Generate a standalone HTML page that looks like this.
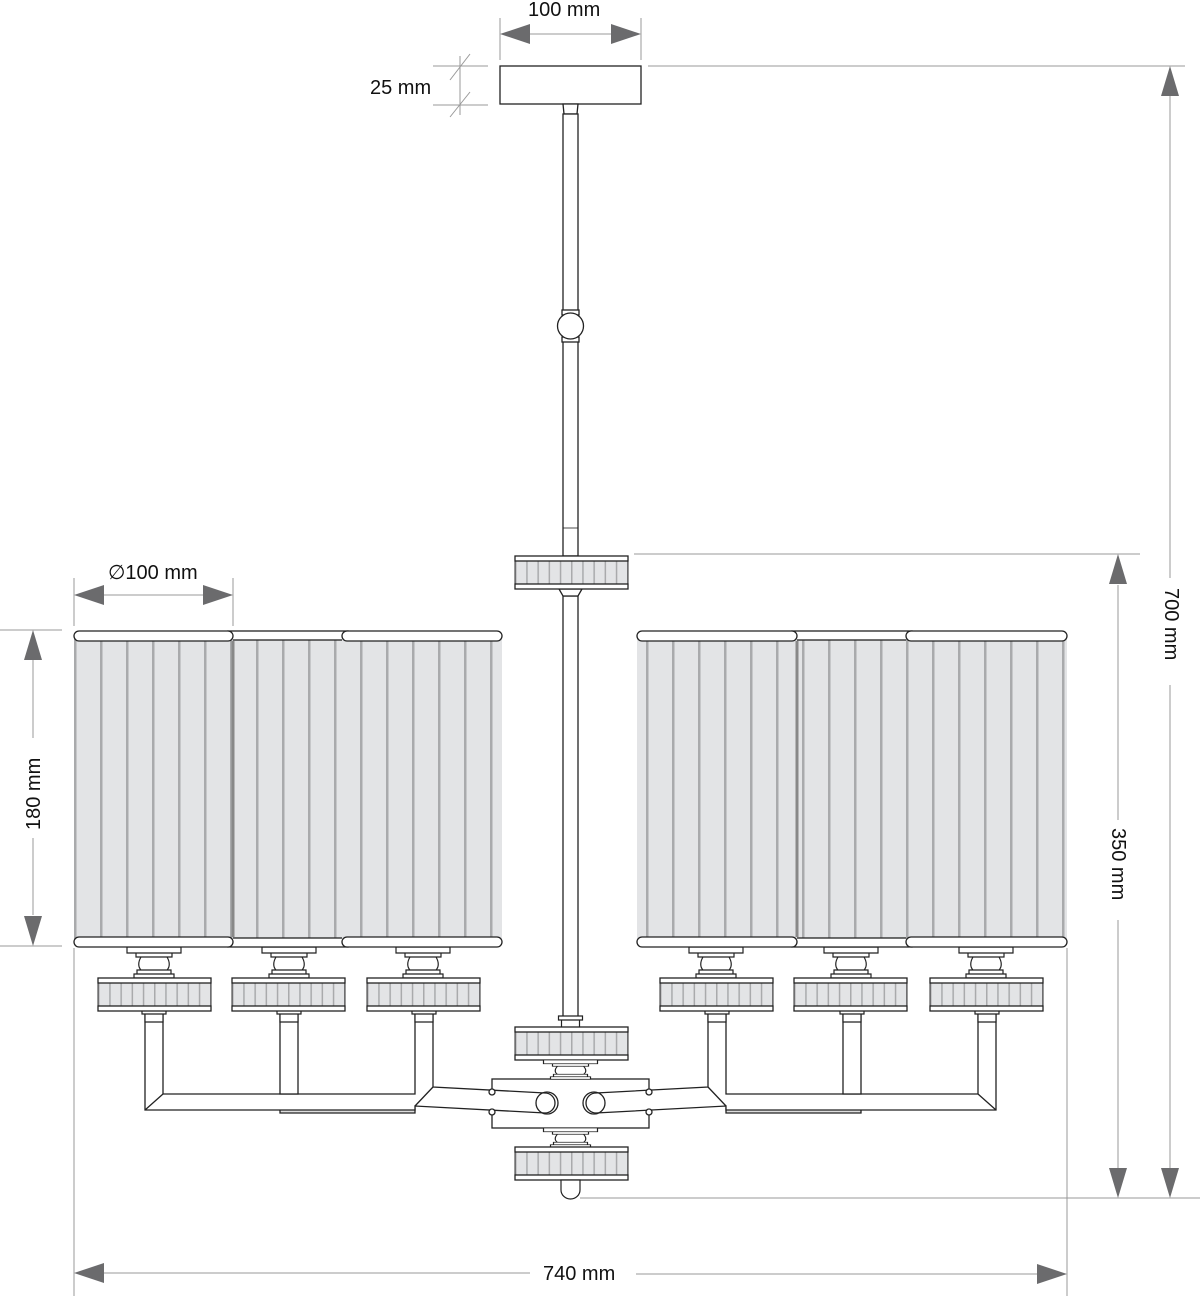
<!DOCTYPE html>
<html><head><meta charset="utf-8"><style>
html,body{margin:0;padding:0;background:#fff}
svg{display:block}
text{font-family:"Liberation Sans",Arial,sans-serif;font-size:20px;fill:#111}
</style></head><body>
<svg width="1200" height="1296" viewBox="0 0 1200 1296" xmlns="http://www.w3.org/2000/svg">
<defs>
<pattern id="sh" x="74" y="0" width="26" height="10" patternUnits="userSpaceOnUse">
<rect width="26" height="10" fill="#e3e4e6"/><rect x="0" width="2.5" height="10" fill="#a9aaac"/></pattern>
<pattern id="dr" x="0" y="0" width="11.2" height="10" patternUnits="userSpaceOnUse">
<rect width="11.2" height="10" fill="#e3e4e6"/><rect x="0" width="1.5" height="10" fill="#a9aaac"/></pattern>
<g id="drum">
<rect x="0" y="5" width="113" height="23" fill="url(#dr)" stroke="#333" stroke-width="1"/>
<rect x="0" y="0" width="113" height="5" fill="#fff" stroke="#222" stroke-width="1.3"/>
<rect x="0" y="28" width="113" height="5" fill="#fff" stroke="#222" stroke-width="1.3"/>
</g>
<path id="cup" d="M-27 0h54v6h-54z M-18 6h36v4h-36z M-13 10c-3 5 -3 10 0 13h26c3-3 3-8 0-13z M-17 23h34v4h-34z M-20 27h40v4h-40z" fill="#fff" stroke="#222" stroke-width="1.2"/>
<path id="post" d="M-12 0h24v4h-24z M-9 4h18v8h-18z" fill="#fff" stroke="#222" stroke-width="1.2"/>
<g id="arm" stroke="#222" stroke-width="1.3" fill="#fff">
<path d="M280 1108h135v5h-135z" fill="#ddd"/>
<path d="M145 1015H163V1094H415V1015H433V1087L545 1093A10 10 0 0 1 545 1113L415 1106V1110H145Z"/>
<path d="M145 1110L163 1094M415 1106L433 1087" fill="none"/>
<rect x="280" y="1015" width="18" height="79"/>
<circle cx="547" cy="1103" r="11" fill="none"/>
<circle cx="492" cy="1092" r="3"/><circle cx="492" cy="1112" r="3"/>
</g>
</defs>

<g stroke="#999" stroke-width="1" fill="none">
<line x1="500" y1="18" x2="500" y2="60"/><line x1="641" y1="18" x2="641" y2="60"/>
<line x1="528" y1="34" x2="613" y2="34"/>
<line x1="433" y1="66" x2="488" y2="66"/><line x1="433" y1="105" x2="488" y2="105"/>
<line x1="460" y1="56" x2="460" y2="115"/>
<line x1="450" y1="80" x2="470" y2="54"/><line x1="450" y1="117" x2="470" y2="92"/>
<line x1="648" y1="66" x2="1185" y2="66"/>
<line x1="1170" y1="95" x2="1170" y2="578"/><line x1="1170" y1="685" x2="1170" y2="1170"/>
<line x1="634" y1="554" x2="1140" y2="554"/>
<line x1="1118" y1="585" x2="1118" y2="820"/><line x1="1118" y1="920" x2="1118" y2="1170"/>
<line x1="580" y1="1198" x2="1200" y2="1198"/>
<line x1="0" y1="630" x2="62" y2="630"/><line x1="0" y1="946" x2="62" y2="946"/>
<line x1="33" y1="660" x2="33" y2="738"/><line x1="33" y1="838" x2="33" y2="915"/>
<line x1="74" y1="578" x2="74" y2="626"/><line x1="233" y1="578" x2="233" y2="626"/>
<line x1="104" y1="595" x2="204" y2="595"/>
<line x1="74" y1="948" x2="74" y2="1296"/><line x1="1067" y1="948" x2="1067" y2="1296"/>
<line x1="104" y1="1273" x2="530" y2="1273"/><line x1="636" y1="1274" x2="1037" y2="1274"/>
</g>
<g fill="#6b6b6d">
<path d="M500 34l30-10v20z"/><path d="M641 34l-30-10v20z"/>
<path d="M1170 66l-9 30h18z"/><path d="M1170 1198l-9-30h18z"/>
<path d="M1118 554l-9 30h18z"/><path d="M1118 1198l-9-30h18z"/>
<path d="M33 630l-9 30h18z"/><path d="M33 946l-9-30h18z"/>
<path d="M74 595l30-10v20z"/><path d="M233 595l-30-10v20z"/>
<path d="M74 1273l30-10v20z"/><path d="M1067 1274l-30-10v20z"/>
</g>
<text x="528" y="16">100 mm</text>
<text x="370" y="94">25 mm</text>
<text x="108" y="579">∅100 mm</text>
<text x="543" y="1280">740 mm</text>
<text transform="translate(1165,588) rotate(90)">700 mm</text>
<text transform="translate(1112,828) rotate(90)">350 mm</text>
<text transform="translate(40,830) rotate(-90)">180 mm</text>

<g stroke="#222" stroke-width="1.3" fill="#fff">
<rect x="500" y="66" width="141" height="38"/>
<path d="M563 104h15l-1 10h-13z"/>
<rect x="563" y="114" width="15" height="200"/>
<rect x="563" y="338" width="15" height="218"/>
<rect x="562" y="310" width="17" height="5"/><rect x="562" y="337" width="17" height="5"/>
<circle cx="570.5" cy="326" r="13"/>
<line x1="563" y1="528" x2="578" y2="528" stroke-width="0.8"/>
<rect x="563" y="596" width="15" height="432"/>
<path d="M559 589h23l-4 7h-15z"/>
<rect x="492" y="1079" width="157" height="49"/>
</g>
<use href="#drum" x="515" y="556"/>
<use href="#post" transform="translate(570.5,1016)"/>
<use href="#drum" x="515" y="1027"/>
<use href="#cup" transform="translate(570.5,1060) scale(1,0.62)"/>

<use href="#arm"/>
<use href="#arm" transform="translate(1141,0) scale(-1,1)"/>

<use href="#cup" transform="translate(570.5,1128) scale(1,0.62)"/>
<use href="#drum" x="515" y="1147"/>
<path d="M561 1180h19v10a9.5 9 0 0 1-19 0z" fill="#fff" stroke="#222" stroke-width="1.2"/>

<use href="#post" transform="translate(154,1010)"/><use href="#post" transform="translate(289,1010)"/><use href="#post" transform="translate(424,1010)"/>
<use href="#post" transform="translate(717,1010)"/><use href="#post" transform="translate(852,1010)"/><use href="#post" transform="translate(987,1010)"/>
<use href="#cup" transform="translate(154,947)"/><use href="#cup" transform="translate(289,947)"/><use href="#cup" transform="translate(423,947)"/>
<use href="#cup" transform="translate(716,947)"/><use href="#cup" transform="translate(851,947)"/><use href="#cup" transform="translate(986,947)"/>
<use href="#drum" x="98" y="978"/><use href="#drum" x="232" y="978"/><use href="#drum" x="367" y="978"/>
<use href="#drum" x="660" y="978"/><use href="#drum" x="794" y="978"/><use href="#drum" x="930" y="978"/>

<g stroke="#222" stroke-width="1.3">
<rect x="233" y="639" width="112" height="300" fill="url(#sh)" stroke="none"/>
<rect x="228" y="631" width="120" height="9" fill="#fff"/><rect x="228" y="938" width="120" height="9" fill="#fff"/>
<rect x="74" y="639" width="159" height="300" fill="url(#sh)" stroke="none"/>
<rect x="74" y="631" width="159" height="10" rx="5" fill="#fff"/><rect x="74" y="937" width="159" height="10" rx="5" fill="#fff"/>
<rect x="342" y="639" width="160" height="300" fill="url(#sh)" stroke="none"/>
<rect x="342" y="631" width="160" height="10" rx="5" fill="#fff"/><rect x="342" y="937" width="160" height="10" rx="5" fill="#fff"/>
<line x1="233" y1="641" x2="233" y2="937" stroke="#888" stroke-width="3"/>
<rect x="797" y="639" width="112" height="300" fill="url(#sh)" stroke="none"/>
<rect x="792" y="631" width="120" height="9" fill="#fff"/><rect x="792" y="938" width="120" height="9" fill="#fff"/>
<rect x="637" y="639" width="160" height="300" fill="url(#sh)" stroke="none"/>
<rect x="637" y="631" width="160" height="10" rx="5" fill="#fff"/><rect x="637" y="937" width="160" height="10" rx="5" fill="#fff"/>
<rect x="906" y="639" width="161" height="300" fill="url(#sh)" stroke="none"/>
<rect x="906" y="631" width="161" height="10" rx="5" fill="#fff"/><rect x="906" y="937" width="161" height="10" rx="5" fill="#fff"/>
<line x1="797" y1="641" x2="797" y2="937" stroke="#888" stroke-width="3"/>
</g>
</svg>
</body></html>
